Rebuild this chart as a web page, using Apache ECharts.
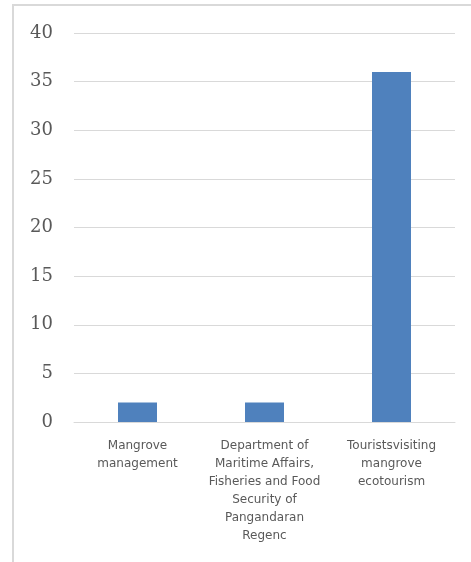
<!DOCTYPE html>
<html><head><meta charset="utf-8">
<script src="https://cdn.jsdelivr.net/npm/echarts@6/dist/echarts.min.js"></script>
<style>html,body{margin:0;padding:0;background:#fff}#c{width:471px;height:562px}</style>
</head><body><div id="c"></div>
<script>
const categories = ["Mangrove\nmanagement", "Department of\nMaritime Affairs,\nFisheries and Food\nSecurity of\nPangandaran\nRegenc", "Touristsvisiting\nmangrove\necotourism"];
const values = [2, 2, 36];
const chart = echarts.init(document.getElementById('c'));
chart.setOption({
  animation: false,
  graphic: [
    {type:'polyline', shape:{points:[[13,562],[13,5],[471,5]]}, style:{stroke:'#d9d9d9', lineWidth:2, fill:null}}
  ],
  grid: {left: 74, right: 16, top: 33, bottom: 140},
  xAxis: {
    type: 'category', data: categories,
    axisLine: {lineStyle: {color: '#d9d9d9'}},
    axisTick: {show: false},
    axisLabel: {interval: 0, color: '#595959', fontFamily: 'DejaVu Sans', fontSize: 12, lineHeight: 18, margin: 15}
  },
  yAxis: {
    type: 'value', min: 0, max: 40, interval: 5,
    axisLine: {show: false}, axisTick: {show: false},
    splitLine: {lineStyle: {color: '#d9d9d9'}},
    axisLabel: {color: '#595959', fontFamily: 'DejaVu Serif', fontSize: 18, margin: 21}
  },
  series: [{type: 'bar', data: values, barWidth: 39, itemStyle: {color: '#4f81bd'}}]
});
</script></body></html>
